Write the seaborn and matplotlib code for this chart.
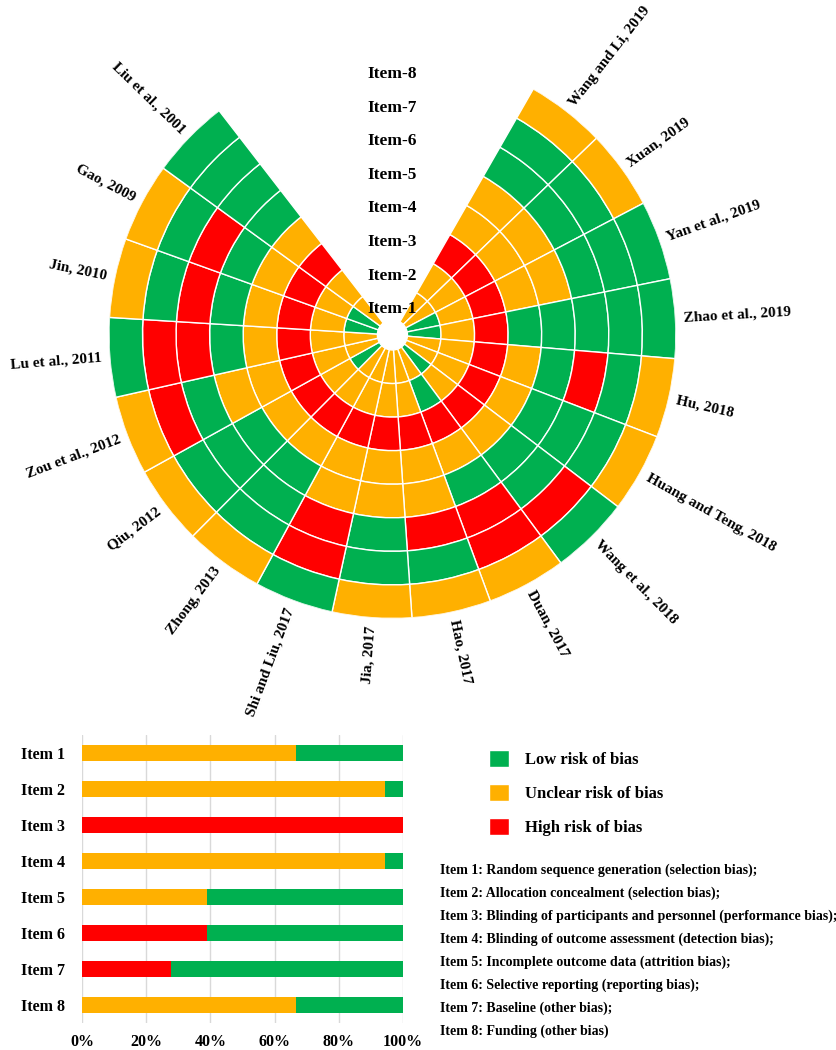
import numpy as np
import pandas as pd
import seaborn as sns
import matplotlib.pyplot as plt
from matplotlib.patches import Patch

sns.set_theme(style="white")
plt.rcParams['font.family'] = ['Liberation Serif', 'DejaVu Serif']
plt.rcParams['font.weight'] = 'bold'
plt.rcParams['text.color'] = 'black'
plt.rcParams['xtick.color'] = 'black'
plt.rcParams['ytick.color'] = 'black'
plt.rcParams['axes.labelcolor'] = 'black'

# studies, clockwise from the right edge of the gap
studies = ["Wang and Li, 2019", "Xuan, 2019", "Yan et al., 2019", "Zhao et al., 2019",
           "Hu, 2018", "Huang and Teng, 2018", "Wang et al., 2018", "Duan, 2017",
           "Hao, 2017", "Jia, 2017", "Shi and Liu, 2017", "Zhong, 2013", "Qiu, 2012",
           "Zou et al., 2012", "Lu et al., 2011", "Jin, 2010", "Gao, 2009",
           "Liu et al., 2001"]

# judgement per item, one letter per study (L low, U unclear, H high)
item1 = list("UULLUULUUUUULUULLU")
item2 = list("UUUUUUULUUUUUUUUUU")
item3 = list("HHHHHHHHHHHHHHHHHH")
item4 = list("UUULUUUUUUUUUUUUUU")
item5 = list("UUULLLLLUUULLULLLL")
item6 = list("LLLLHLLHHLHLLLHHHL")
item7 = list("LLLLLLHHLLHLLHHLLL")
item8 = list("UULLUULUUULUUULUUL")
items = [item1, item2, item3, item4, item5, item6, item7, item8]

descriptions = [
    "Item 1: Random sequence generation (selection bias);",
    "Item 2: Allocation concealment (selection bias);",
    "Item 3: Blinding of participants and personnel (performance bias);",
    "Item 4: Blinding of outcome assessment (detection bias);",
    "Item 5: Incomplete outcome data (attrition bias);",
    "Item 6: Selective reporting (reporting bias);",
    "Item 7: Baseline (other bias);",
    "Item 8: Funding (other bias)",
]

GREEN, ORANGE, RED = "#00B050", "#FFB000", "#FF0000"
colors = {"L": GREEN, "U": ORANGE, "H": RED}

fig = plt.figure(figsize=(8.36, 10.5), dpi=100)

# ---- circular plot ----
pax = fig.add_axes([0.1303, 0.4110, 0.6782, 0.5400], projection='polar')
pax.set_theta_zero_location('N')
pax.set_theta_direction(-1)

start, step = 29.8, 16.25          # degrees
hole, ring = 15, 33.5
angles = start + (np.arange(len(studies)) + 0.5) * step
theta = np.deg2rad(angles)

for k, item in enumerate(items):
    pax.bar(theta, ring, width=np.deg2rad(step), bottom=hole + k * ring,
            color=[colors[c] for c in item], edgecolor='white', linewidth=1.0)

outer = hole + len(items) * ring
pax.set_ylim(0, outer)
pax.axis('off')

for name, ang, th in zip(studies, angles, theta):
    if ang < 180:
        rot, ha = 90 - ang, 'left'
    else:
        rot, ha = 270 - ang, 'right'
    pax.text(th, outer + 8, name, rotation=rot, rotation_mode='anchor',
             ha=ha, va='center', fontsize=11, fontweight='bold')

for k in range(len(items)):
    pax.text(0, hole + (k + 0.5) * ring - 6, f"Item-{k + 1}", ha='center',
             va='center', fontsize=12.5, fontweight='bold')

# ---- stacked bar summary ----
n = len(studies)
df = pd.DataFrame({
    "item": [f"Item {k + 1}" for k in range(len(items))],
    "high": [100 * it.count("H") / n for it in items],
    "unclear": [100 * it.count("U") / n for it in items],
    "low": [100 * it.count("L") / n for it in items],
})
df["hu"] = df["high"] + df["unclear"]
df["all"] = df["hu"] + df["low"]

bax = fig.add_axes([0.0981, 0.0257, 0.384, 0.2743])
for col, c in [("all", GREEN), ("hu", ORANGE), ("high", RED)]:
    sns.barplot(data=df, x=col, y="item", color=c, saturation=1, orient='h',
                width=0.42, linewidth=0, ax=bax)
bax.set_xlim(0, 100)
bax.set_xticks(range(0, 101, 20))
bax.set_xticklabels([f"{v}%" for v in range(0, 101, 20)])
bax.set_xlabel("")
bax.set_ylabel("")
bax.grid(axis='x', color='#d9d9d9', linewidth=1)
bax.set_axisbelow(True)
sns.despine(ax=bax, left=True, bottom=True)
bax.tick_params(axis='both', length=0, labelsize=11.5)
bax.tick_params(axis='y', pad=12)
bax.tick_params(axis='x', pad=8)
for t in bax.get_xticklabels() + bax.get_yticklabels():
    t.set_fontweight('bold')

# ---- legend and notes ----
handles = [Patch(facecolor=GREEN), Patch(facecolor=ORANGE), Patch(facecolor=RED)]
fig.legend(handles, ["Low risk of bias", "Unclear risk of bias", "High risk of bias"],
           loc='upper left', bbox_to_anchor=(0.585, 0.2857), frameon=False,
           prop={'size': 12, 'weight': 'bold'}, handlelength=1.2, handleheight=1.2,
           handletextpad=0.95, labelspacing=0.95, borderpad=0, borderaxespad=0)

for j, line in enumerate(descriptions):
    y = 870 + j * 23
    fig.text(440 / 836, 1 - y / 1050, line, fontsize=10, fontweight='bold',
             va='center', ha='left')

fig.savefig("out.png", dpi=100)
